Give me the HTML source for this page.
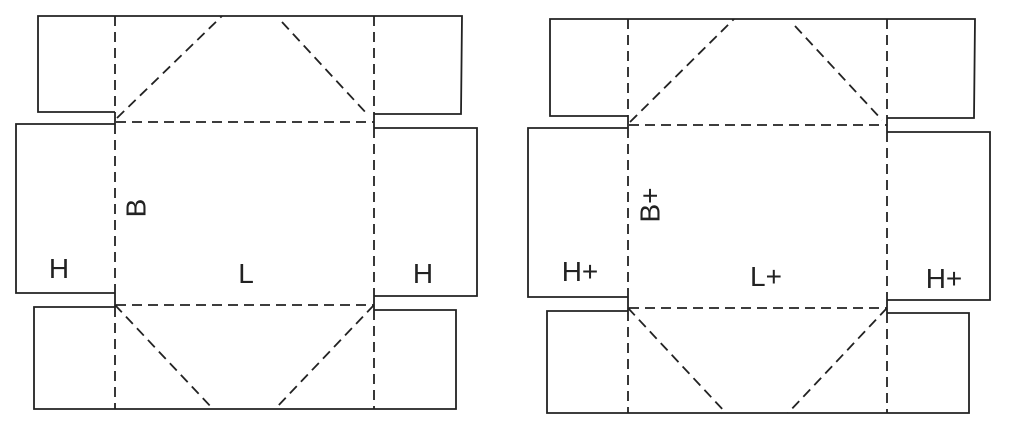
<!DOCTYPE html>
<html><head><meta charset="utf-8"><style>
html,body{margin:0;padding:0;background:#fff;}
svg{display:block;}
text{font-family:"Liberation Sans",sans-serif;fill:#222;}
</style></head><body>
<svg width="1012" height="429" viewBox="0 0 1012 429" xmlns="http://www.w3.org/2000/svg">
<g fill="none" stroke="#222" stroke-width="1.8">
<!-- LEFT FIGURE -->
<polyline points="115,112 38,112 38,16 462,16 461,114 374,114"/>
<polyline points="115,124 16,124 16,293 115,293"/>
<polyline points="374,128 477,128 477,296 374,296"/>
<polyline points="115,307 34,307 34,409 456,409 456,310 374,310"/>
<line x1="115" y1="112" x2="115" y2="124"/>
<line x1="115" y1="293" x2="115" y2="307"/>
<line x1="374" y1="114" x2="374" y2="128"/>
<line x1="374" y1="296" x2="374" y2="310"/>
<g stroke-dasharray="10,6">
<line x1="115" y1="16" x2="115" y2="112"/>
<line x1="115" y1="124" x2="115" y2="293"/>
<line x1="115" y1="307" x2="115" y2="409"/>
<line x1="374" y1="16" x2="374" y2="114"/>
<line x1="374" y1="128" x2="374" y2="296"/>
<line x1="374" y1="310" x2="374" y2="409"/>
<line x1="116" y1="122" x2="374" y2="122"/>
<line x1="116" y1="305" x2="374" y2="305"/>
<line x1="117" y1="118" x2="222" y2="16"/>
<line x1="282" y1="22" x2="368" y2="115"/>
<line x1="115" y1="305" x2="213" y2="409"/>
<line x1="374" y1="305" x2="275" y2="409"/>
</g>
<!-- RIGHT FIGURE -->
<polyline points="628,116 550,116 550,19 975,19 974,118 887,118"/>
<polyline points="628,128 528,128 528,297 628,297"/>
<polyline points="887,132 990,132 990,300 887,300"/>
<polyline points="628,311 547,311 547,413 969,413 969,313 887,313"/>
<line x1="628" y1="116" x2="628" y2="128"/>
<line x1="628" y1="297" x2="628" y2="311"/>
<line x1="887" y1="118" x2="887" y2="132"/>
<line x1="887" y1="300" x2="887" y2="313"/>
<g stroke-dasharray="10,6">
<line x1="628" y1="19" x2="628" y2="116"/>
<line x1="628" y1="128" x2="628" y2="297"/>
<line x1="628" y1="311" x2="628" y2="413"/>
<line x1="887" y1="19" x2="887" y2="118"/>
<line x1="887" y1="132" x2="887" y2="300"/>
<line x1="887" y1="313" x2="887" y2="413"/>
<line x1="629" y1="125" x2="887" y2="125"/>
<line x1="629" y1="308" x2="887" y2="308"/>
<line x1="630" y1="122" x2="734" y2="19"/>
<line x1="795" y1="26" x2="882" y2="120"/>
<line x1="628" y1="308" x2="726" y2="413"/>
<line x1="887" y1="308" x2="788" y2="413"/>
</g>
</g>
<g font-size="28">
<text x="136" y="208" text-anchor="middle" dominant-baseline="central" transform="rotate(-90 136 208)">B</text>
<text x="59" y="278" text-anchor="middle">H</text>
<text x="246" y="283" text-anchor="middle">L</text>
<text x="423" y="283" text-anchor="middle">H</text>
<text x="650" y="205" text-anchor="middle" dominant-baseline="central" transform="rotate(-90 650 205)">B+</text>
<text x="580" y="281" text-anchor="middle">H+</text>
<text x="766" y="286" text-anchor="middle">L+</text>
<text x="944" y="288" text-anchor="middle">H+</text>
</g>
</svg>
</body></html>
